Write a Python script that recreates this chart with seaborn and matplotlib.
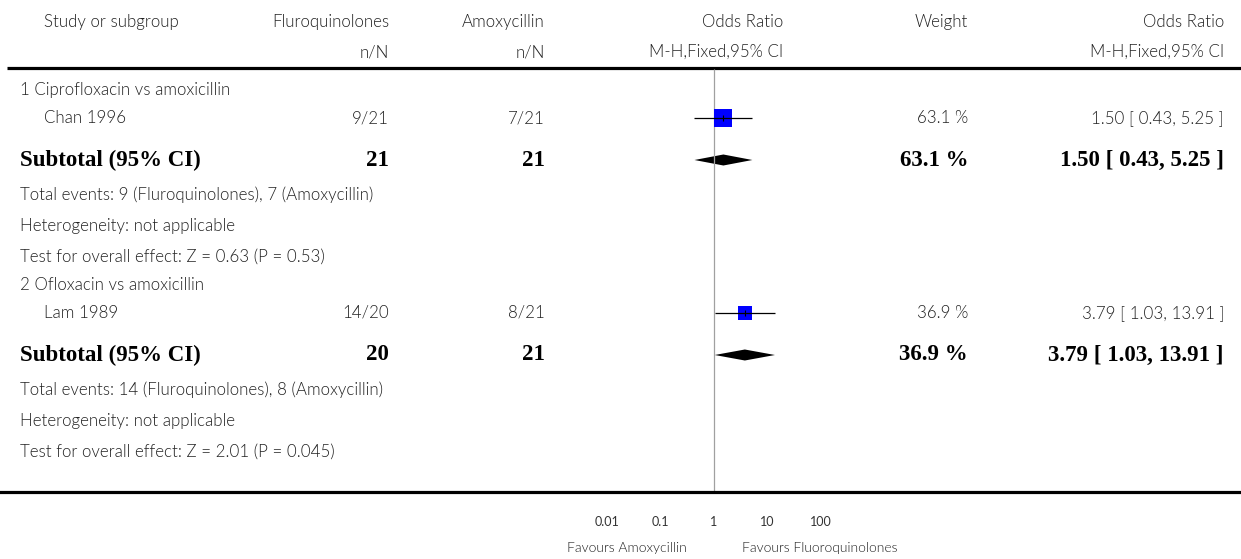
import numpy as np
import pandas as pd
import seaborn as sns
import matplotlib.pyplot as plt
from matplotlib.ticker import NullLocator

# data
groups = ["1 Ciprofloxacin vs amoxicillin", "2 Ofloxacin vs amoxicillin"]
studies = ["Chan 1996", "Lam 1989"]
fq_events = [9, 14]
fq_total = [21, 20]
amox_events = [7, 8]
amox_total = [21, 21]
weights = [63.1, 36.9]
or_est = [1.50, 3.79]
ci_lo = [0.43, 1.03]
ci_hi = [5.25, 13.91]
z_vals = ["0.63", "2.01"]
p_vals = ["0.53", "0.045"]
axis_ticks = [0.01, 0.1, 1, 10, 100]
axis_labels = ["0.01", "0.1", "1", "10", "100"]

sns.set_style("white")
plt.rcParams['font.family'] = ['Lato', 'DejaVu Sans']

W, H = 1241, 559
fig = plt.figure(figsize=(W / 100, H / 100), dpi=100)

# background axes in pixel units for the table text
tab = fig.add_axes([0, 0, 1, 1])
tab.set_xlim(0, W)
tab.set_ylim(H, 0)
tab.axis('off')

# forest axes, log scale, bottom spine is the thick line
axis_y = 492
x_one, decade = 714, 53.3
fp = fig.add_axes([0, (H - axis_y) / H, 1, axis_y / H])
fp.set_xscale('log')
fp.set_xlim(10 ** ((0 - x_one) / decade), 10 ** ((W - x_one) / decade))
fp.set_ylim(axis_y, 0)
fp.patch.set_alpha(0)
for s in ['top', 'left', 'right']:
    fp.spines[s].set_visible(False)
fp.spines['bottom'].set_linewidth(2.3)
fp.spines['bottom'].set_color('black')
fp.set_xticks(axis_ticks)
fp.set_xticklabels(axis_labels)
fp.xaxis.set_minor_locator(NullLocator())
fp.set_yticks([])
fp.tick_params(axis='x', direction='in', length=5, width=1.8, pad=17,
               labelsize=9, labelcolor='#333333')

txt = dict(fontsize=12.2, color='#222222', va='center', fontweight=300)
bold = dict(fontsize=16.5, color='black', va='center', family='Liberation Serif',
            fontweight='bold')

# column positions (right edges)
c_fq, c_am, c_or, c_w, c_ci = 389, 545, 783, 968, 1224

# header
tab.text(44, 22, "Study or subgroup", ha='left', **txt)
tab.text(c_fq, 22, "Fluroquinolones", ha='right', **txt)
tab.text(c_am, 22, "Amoxycillin", ha='right', **txt)
tab.text(c_or, 22, "Odds Ratio", ha='right', **txt)
tab.text(c_w, 22, "Weight", ha='right', **txt)
tab.text(c_ci, 22, "Odds Ratio", ha='right', **txt)
tab.text(c_fq, 52, "n/N", ha='right', **txt)
tab.text(c_am, 52, "n/N", ha='right', **txt)
tab.text(c_or, 52, "M-H,Fixed,95% CI", ha='right', **txt)
tab.text(c_ci, 52, "M-H,Fixed,95% CI", ha='right', **txt)
tab.hlines(68, 7, W, color='black', lw=2.3)

fp.vlines(1, 69, axis_y, color='#a0a0a0', lw=0.9)

# row positions per subgroup
group_y = [90, 285]
step = [28, 70, 105, 136, 167]

rows = []
for i in range(len(studies)):
    y0 = group_y[i]
    y_study = y0 + step[0]
    y_sub = y0 + step[1]
    tab.text(20, y0, groups[i], ha='left', **txt)
    tab.text(44, y_study, studies[i], ha='left', **txt)
    tab.text(c_fq, y_study, f"{fq_events[i]}/{fq_total[i]}", ha='right', **txt)
    tab.text(c_am, y_study, f"{amox_events[i]}/{amox_total[i]}", ha='right', **txt)
    tab.text(c_w, y_study, f"{weights[i]:.1f} %", ha='right', **txt)
    tab.text(c_ci, y_study, f"{or_est[i]:.2f} [ {ci_lo[i]:.2f}, {ci_hi[i]:.2f} ]",
             ha='right', **txt)

    tab.text(20, y_sub, "Subtotal (95% CI)", ha='left', **bold)
    tab.text(c_fq, y_sub, f"{fq_total[i]}", ha='right', **bold)
    tab.text(c_am, y_sub, f"{amox_total[i]}", ha='right', **bold)
    tab.text(c_w, y_sub, f"{weights[i]:.1f} %", ha='right', **bold)
    tab.text(c_ci, y_sub, f"{or_est[i]:.2f} [ {ci_lo[i]:.2f}, {ci_hi[i]:.2f} ]",
             ha='right', **bold)

    tab.text(20, y0 + step[2],
             f"Total events: {fq_events[i]} (Fluroquinolones), {amox_events[i]} (Amoxycillin)",
             ha='left', **txt)
    tab.text(20, y0 + step[3], "Heterogeneity: not applicable", ha='left', **txt)
    tab.text(20, y0 + step[4],
             f"Test for overall effect: Z = {z_vals[i]} (P = {p_vals[i]})",
             ha='left', **txt)

    # subtotal diamond
    dh = 5.5
    fp.fill([ci_lo[i], or_est[i], ci_hi[i], or_est[i]],
            [y_sub, y_sub - dh, y_sub, y_sub + dh], color='black', lw=0)
    rows.append(dict(study=studies[i], y=y_study, est=or_est[i],
                     lo=ci_lo[i], hi=ci_hi[i], weight=weights[i]))

df = pd.DataFrame(rows)
sns.scatterplot(data=df, x='est', y='y', size='weight',
                sizes={w: w * 2.7 for w in weights}, marker='s',
                color='#0000ff', edgecolor='none', legend=False, ax=fp, zorder=2)
fp.hlines(df['y'], df['lo'], df['hi'], color='black', lw=0.9, zorder=3)
fp.scatter(df['est'], df['y'], marker='|', s=25, color='black', lw=0.8, zorder=4)
fp.set_xlabel('')
fp.set_ylabel('')
fp.set_ylim(axis_y, 0)

foot = dict(txt, fontsize=10)
tab.text(687, 548, "Favours Amoxycillin", ha='right', **foot)
tab.text(742, 548, "Favours Fluoroquinolones", ha='left', **foot)

fig.savefig('out.png', dpi=100)
